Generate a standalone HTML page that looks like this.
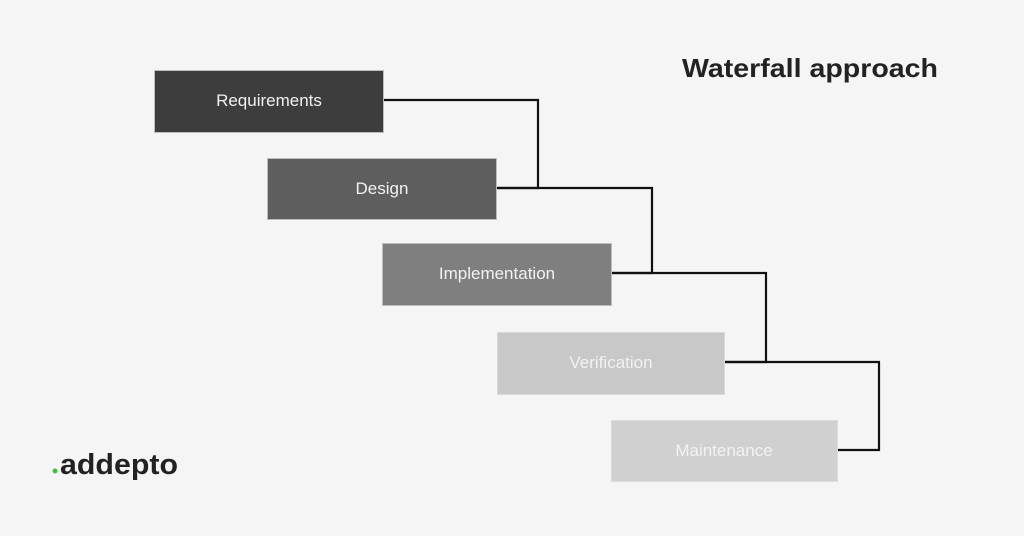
<!DOCTYPE html>
<html><head><meta charset="utf-8"><style>
body{margin:0;width:1024px;height:536px;background:#f5f5f5;overflow:hidden;font-family:"Liberation Sans",sans-serif}
</style></head><body>
<svg width="1024" height="536" xmlns="http://www.w3.org/2000/svg" style="position:absolute;left:0;top:0">
<rect width="1024" height="536" fill="#f5f5f5"/>
<g fill="none" stroke="#111" stroke-width="2.2">
<polyline points="383,100 538,100 538,188 496,188"/>
<polyline points="496,188 652,188 652,273 611,273"/>
<polyline points="611,273 766,273 766,362 724,362"/>
<polyline points="724,362 879,362 879,450 837,450"/>
</g>
<g stroke="#bdbdbd" stroke-width="1">
<rect x="154.5" y="70.5" width="229" height="62" fill="#3d3d3d"/>
<rect x="267.5" y="158.5" width="229" height="61" fill="#5e5e5e"/>
<rect x="382.5" y="243.5" width="229" height="62" fill="#7f7f7f"/>
<rect x="497.5" y="332.5" width="227" height="62" fill="#c8c8c8" stroke="#d8d8d8"/>
<rect x="611.5" y="420.5" width="226" height="61" fill="#d0d0d0" stroke="#dcdcdc"/>
</g>
<g font-family="Liberation Sans, sans-serif" font-size="17" text-anchor="middle" fill="#f2f2f2">
<text x="269" y="106">Requirements</text>
<text x="382" y="194">Design</text>
<text x="497" y="279">Implementation</text>
<text x="611" y="368">Verification</text>
<text x="724" y="456">Maintenance</text>
</g>
<text x="682" y="77" font-family="Liberation Sans, sans-serif" font-weight="bold" font-size="26" fill="#222" textLength="256" lengthAdjust="spacingAndGlyphs">Waterfall approach</text>
<circle cx="55" cy="471" r="2.5" fill="#3cc13c"/>
<text x="60" y="474" font-family="Liberation Sans, sans-serif" font-weight="bold" font-size="29" fill="#222" textLength="118" lengthAdjust="spacingAndGlyphs">addepto</text>
</svg>
</body></html>
